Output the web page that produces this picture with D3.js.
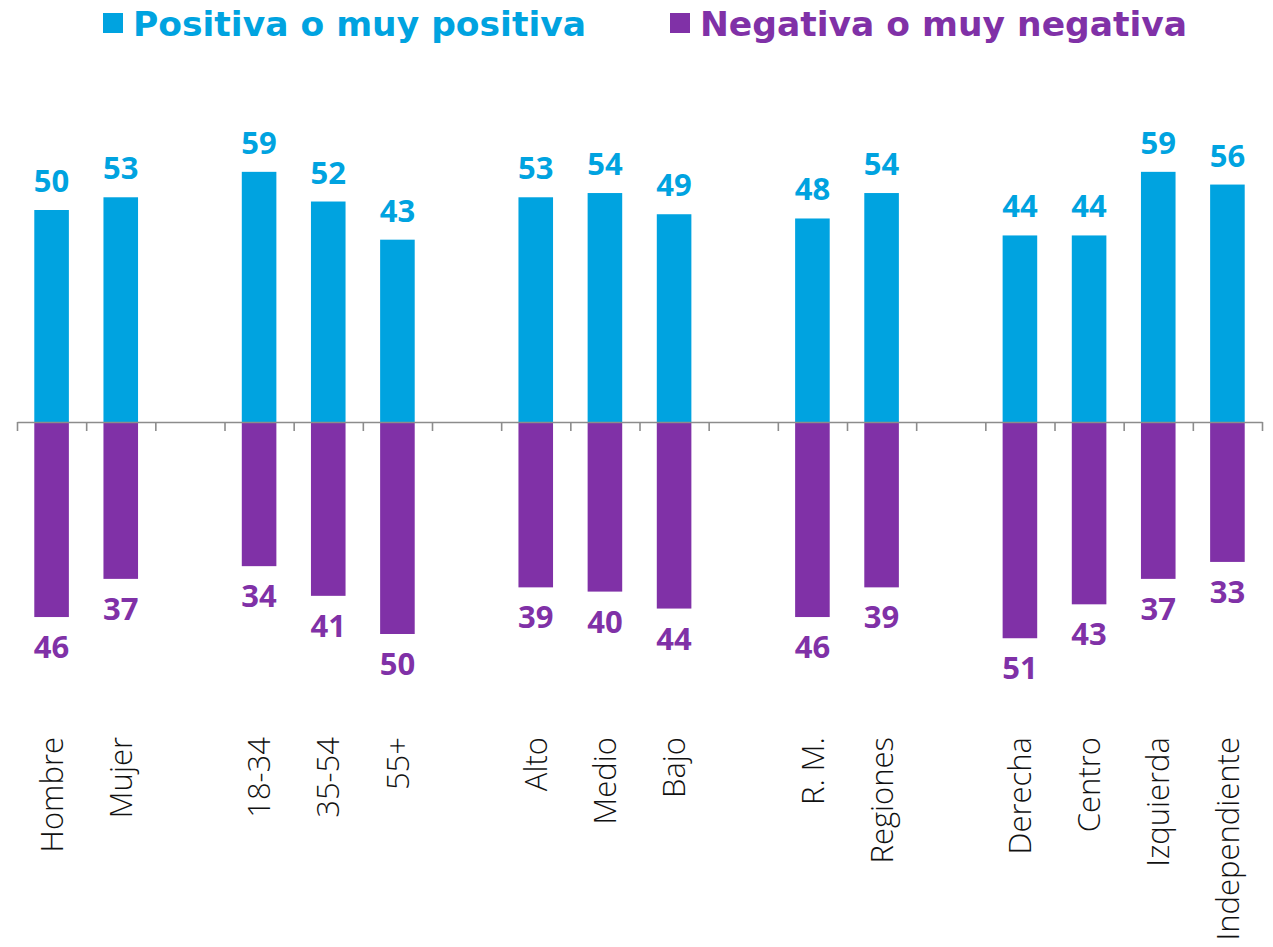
<!DOCTYPE html>
<html>
<head>
<meta charset="utf-8">
<script src="https://cdn.jsdelivr.net/npm/d3@7"></script>
<style>
  html, body { margin: 0; padding: 0; background: #ffffff; }
  svg { display: block; }
</style>
</head>
<body>
<svg id="chart" width="1273" height="947"></svg>
<script>
// ---- data ----
const categories = ["Hombre", "Mujer", "18-34", "35-54", "55+", "Alto", "Medio", "Bajo",
                    "R. M.", "Regiones", "Derecha", "Centro", "Izquierda", "Independiente"];
const groupSizes = [2, 3, 3, 2, 4];
const positiva = [50, 53, 59, 52, 43, 53, 54, 49, 48, 54, 44, 44, 59, 56];
const negativa = [46, 37, 34, 41, 50, 39, 40, 44, 46, 39, 51, 43, 37, 33];
const seriesNames = ["Positiva o muy positiva", "Negativa o muy negativa"];

const colPos = "#00A3E0";
const colNeg = "#8031A7";

// build slots with a blank slot between groups
const slots = [];
let ci = 0;
groupSizes.forEach((g, gi) => {
  for (let k = 0; k < g; k++) { slots.push(categories[ci]); ci++; }
  if (gi < groupSizes.length - 1) slots.push("__gap" + gi);
});
const rows = categories.map((c, i) => ({ cat: c, pos: positiva[i], neg: negativa[i] }));

const svg = d3.select("#chart");
const left = 17, right = 1262, zeroY = 422, pxPerUnit = 4.24;

const x = d3.scaleBand().domain(slots).range([left, right])
  .paddingInner(0.5).paddingOuter(0.25);
const y = d3.scaleLinear().domain([-60, 60])
  .range([zeroY + 60 * pxPerUnit, zeroY - 60 * pxPerUnit]);
const xb = d3.scaleLinear().domain([0, slots.length]).range([left, right]);

// bars
svg.append("g").selectAll("rect.pos").data(rows).join("rect")
  .attr("class", "pos")
  .attr("x", d => x(d.cat)).attr("width", x.bandwidth())
  .attr("y", d => y(d.pos)).attr("height", d => y(0) - y(d.pos))
  .attr("fill", colPos);
svg.append("g").selectAll("rect.neg").data(rows).join("rect")
  .attr("class", "neg")
  .attr("x", d => x(d.cat)).attr("width", x.bandwidth())
  .attr("y", y(0)).attr("height", d => y(-d.neg) - y(0))
  .attr("fill", colNeg);

// axis at zero with ticks at slot boundaries
const axis = d3.axisBottom(xb).tickValues(d3.range(slots.length + 1))
  .tickFormat("").tickSize(9).tickSizeOuter(0);
const ag = svg.append("g").attr("transform", `translate(0,${y(0)})`).call(axis);
ag.select(".domain").attr("stroke", "#8c8c8c").attr("stroke-width", 1.6);
ag.selectAll(".tick line").attr("stroke", "#8c8c8c").attr("stroke-width", 1.6);

// value labels
const valFont = "'Open Sans', sans-serif";
svg.append("g").selectAll("text").data(rows).join("text")
  .attr("x", d => x(d.cat) + x.bandwidth() / 2)
  .attr("y", d => y(d.pos) - 18)
  .attr("text-anchor", "middle")
  .attr("font-family", valFont).attr("font-weight", 700).attr("font-size", 31)
  .attr("fill", colPos)
  .text(d => d.pos);
svg.append("g").selectAll("text").data(rows).join("text")
  .attr("x", d => x(d.cat) + x.bandwidth() / 2)
  .attr("y", d => y(-d.neg) + 41)
  .attr("text-anchor", "middle")
  .attr("font-family", valFont).attr("font-weight", 700).attr("font-size", 31)
  .attr("fill", colNeg)
  .text(d => d.neg);

// category labels (rotated)
svg.append("g").selectAll("text").data(rows).join("text")
  .attr("transform", d => `translate(${x(d.cat) + x.bandwidth() / 2},737) rotate(-90)`)
  .attr("dy", "0.36em")
  .attr("text-anchor", "end")
  .attr("font-family", "'Open Sans', sans-serif").attr("font-weight", 300).attr("font-size", 31)
  .attr("fill", "#111")
  .text(d => d.cat);

// legend
const legend = [
  { name: seriesNames[0], color: colPos, sx: 103, tx: 133 },
  { name: seriesNames[1], color: colNeg, sx: 670, tx: 700 }
];
const lg = svg.append("g");
legend.forEach(l => {
  lg.append("rect").attr("x", l.sx).attr("y", 13).attr("width", 20).attr("height", 20).attr("fill", l.color);
  lg.append("text").attr("x", l.tx).attr("y", 36)
    .attr("font-family", "'DejaVu Sans', sans-serif").attr("font-weight", 700).attr("font-size", 34.5)
    .attr("fill", l.color).text(l.name);
});
</script>
</body>
</html>
